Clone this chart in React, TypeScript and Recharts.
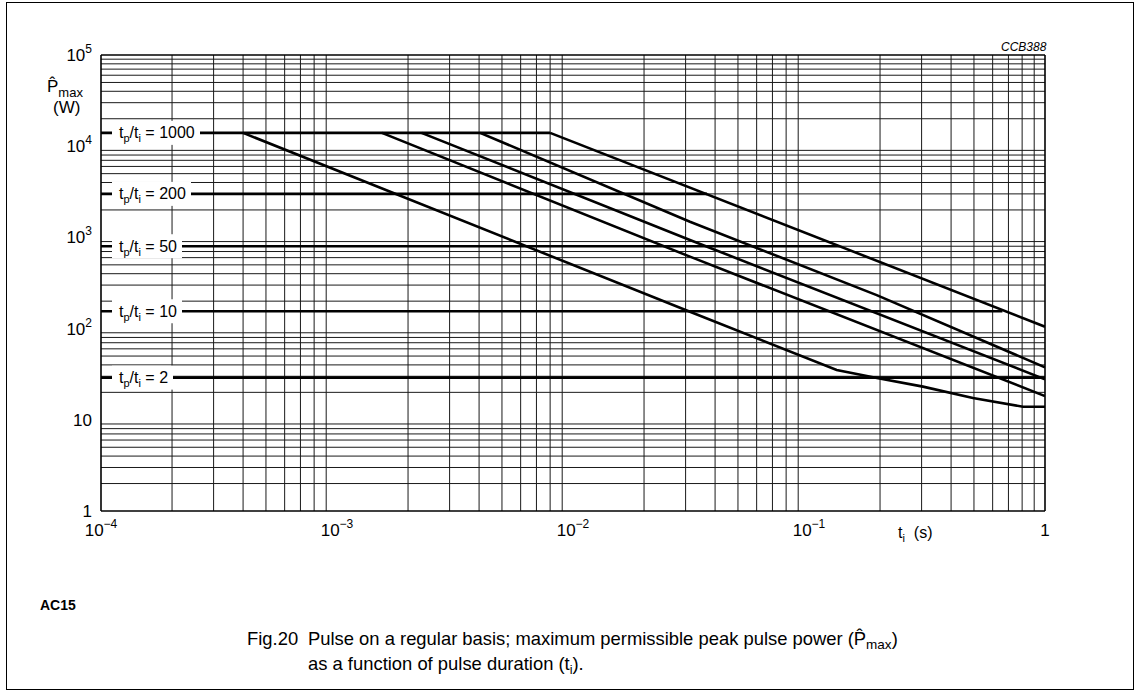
import React from 'react';
import { ComposedChart, Line, XAxis, YAxis, ReferenceLine, ReferenceDot } from 'recharts';

// ---- data ----
const xTicks = [1e-4, 1e-3, 1e-2, 1e-1, 1];
const yTicks = [1, 10, 100, 1000, 10000, 100000];
const gridMantissas = [2, 3, 4, 5, 6, 7, 8, 9];
const xDecades = [1e-4, 1e-3, 1e-2, 1e-1];
const yDecades = [1, 10, 100, 1000, 10000];

const ratioLabels = ['1000', '200', '50', '10', '2'];
const ratioLevels = [14000, 3000, 800, 155, 29];
const ratioEnds = [0.008, 0.037, 0.135, 0.66, 1];

const d1T = [4e-4, 0.0313, 0.131, 0.194, 0.304, 0.495, 0.807, 1];
const d1P = [14000, 153, 35.2, 28.7, 23.1, 17.3, 13.9, 13.9];
const d2T = [1.55e-3, 0.0313, 1];
const d2P = [14000, 615, 18.2];
const d3T = [2.28e-3, 0.0313, 1];
const d3P = [14000, 936, 27.8];
const d4T = [4.04e-3, 0.0313, 0.1936, 1];
const d4P = [14000, 1486, 233, 37.6];
const d5T = [8e-3, 1];
const d5P = [14000, 105];

const diagT = [d1T, d2T, d3T, d4T, d5T];
const diagP = [d1P, d2P, d3P, d4P, d5P];

// ---- helpers ----
const FONT = '"Liberation Sans", Arial, Helvetica, sans-serif';
const toRows = (ts: number[], ps: number[]) => ts.map((t, i) => ({ t, p: ps[i] }));
const xGrid: number[] = [];
xDecades.forEach((d) => gridMantissas.forEach((m) => xGrid.push(d * m)));
const yGrid: number[] = [];
yDecades.forEach((d) => gridMantissas.forEach((m) => yGrid.push(d * m)));

const expOf = (v: number) => Math.round(Math.log10(v));

const XTick = (props: any) => {
  const { x, y, payload } = props;
  const e = expOf(payload.value);
  if (e === 0) {
    return (
      <text x={x} y={y + 25} textAnchor="middle" fontSize={17} fontFamily={FONT} fill="#000">1</text>
    );
  }
  return (
    <text x={x} y={y + 25} textAnchor="middle" fontSize={17} fontFamily={FONT} fill="#000">
      10<tspan fontSize={12} dy={-8}>{e < 0 ? '\u2212' + -e : String(e)}</tspan>
    </text>
  );
};

const YTick = (props: any) => {
  const { x, y, payload } = props;
  const e = expOf(payload.value);
  if (e <= 1) {
    return (
      <text x={x - 9} y={y + 6} textAnchor="end" fontSize={17} fontFamily={FONT} fill="#000">
        {e === 0 ? '1' : '10'}
      </text>
    );
  }
  return (
    <text x={x - 9} y={y + 6} textAnchor="end" fontSize={17} fontFamily={FONT} fill="#000">
      10<tspan fontSize={12} dy={-8}>{String(e)}</tspan>
    </text>
  );
};

const RatioLabel = (props: any) => {
  const { viewBox, text } = props;
  const x = viewBox.x + (viewBox.width || 0) / 2;
  const y = viewBox.y + (viewBox.height || 0) / 2;
  const w = 52 + text.length * 9;
  return (
    <g>
      <rect x={x + 11} y={y - 12} width={w} height={24} fill="#fff" />
      <text x={x + 18} y={y + 5.5} fontSize={16} fontFamily={FONT} fill="#000">
        t<tspan fontSize={11} dy={4}>p</tspan>
        <tspan dy={-4}>/t</tspan>
        <tspan fontSize={11} dy={4}>i</tspan>
        <tspan dy={-4}>{' = ' + text}</tspan>
      </text>
    </g>
  );
};

const abs = (left: number, top: number, extra: React.CSSProperties = {}): React.CSSProperties => ({
  position: 'absolute',
  left,
  top,
  fontFamily: FONT,
  color: '#000',
  whiteSpace: 'nowrap',
  lineHeight: 1,
  ...extra,
});

export default function App() {
  return (
    <div style={{ position: 'absolute', left: 0, top: 0, width: 1136, height: 692, background: '#fff', overflow: 'hidden' }}>
      <div style={{ position: 'absolute', left: 6, top: 2, width: 1126, height: 686, border: '1px solid #000' }} />
      <div style={{ position: 'absolute', left: 0, top: 0 }}>
        <ComposedChart width={1136} height={692} margin={{ top: 55, left: 41, right: 91, bottom: 151 }}>
          <XAxis
            type="number"
            dataKey="t"
            scale="log"
            domain={[1e-4, 1]}
            allowDataOverflow
            ticks={xTicks}
            tick={<XTick />}
            tickLine={false}
            axisLine={false}
            tickSize={0}
            tickMargin={0}
            height={30}
          />
          <YAxis
            type="number"
            dataKey="p"
            scale="log"
            domain={[1, 100000]}
            allowDataOverflow
            ticks={yTicks}
            tick={<YTick />}
            tickLine={false}
            axisLine={false}
            tickSize={0}
            tickMargin={0}
            width={60}
          />
          {xGrid.map((v) => (
            <ReferenceLine key={'xg' + v} x={v} stroke="#1a1a1a" strokeWidth={1} />
          ))}
          {yGrid.map((v) => (
            <ReferenceLine key={'yg' + v} y={v} stroke="#1a1a1a" strokeWidth={1} />
          ))}
          <ReferenceLine x={1e-4} stroke="#000" strokeWidth={1.6} />
          <ReferenceLine x={1} stroke="#000" strokeWidth={1.6} />
          <ReferenceLine y={1} stroke="#000" strokeWidth={1.6} />
          <ReferenceLine y={100000} stroke="#000" strokeWidth={1.6} />
          {ratioLevels.map((lv, i) => (
            <Line
              key={'h' + i}
              data={toRows([1e-4, ratioEnds[i]], [lv, lv])}
              dataKey="p"
              type="linear"
              stroke="#000"
              strokeWidth={2.6}
              dot={false}
              activeDot={false}
              isAnimationActive={false}
            />
          ))}
          {diagT.map((ts, i) => (
            <Line
              key={'d' + i}
              data={toRows(ts, diagP[i])}
              dataKey="p"
              type="linear"
              stroke="#000"
              strokeWidth={2.6}
              dot={false}
              activeDot={false}
              isAnimationActive={false}
            />
          ))}
          {ratioLevels.map((lv, i) => (
            <ReferenceDot
              key={'lab' + i}
              x={1e-4}
              y={lv}
              r={0}
              fill="none"
              stroke="none"
              ifOverflow="visible"
              label={(p: any) => <RatioLabel {...p} text={ratioLabels[i]} />}
            />
          ))}
        </ComposedChart>
      </div>
      <div style={abs(47, 78, { fontSize: 17 })}>
        P{'\u0302'}<span style={{ fontSize: 13, position: 'relative', top: 5 }}>max</span>
      </div>
      <div style={abs(53, 99, { fontSize: 17 })}>(W)</div>
      <div style={abs(1001, 41, { fontSize: 12, fontStyle: 'italic' })}>CCB388</div>
      <div style={abs(898, 525, { fontSize: 16 })}>
        t<span style={{ fontSize: 11, position: 'relative', top: 4 }}>i</span>&nbsp;&nbsp;(s)
      </div>
      <div style={abs(40, 598, { fontSize: 14, fontWeight: 'bold' })}>AC15</div>
      <div style={abs(247, 630, { fontSize: 18.4 })}>Fig.20</div>
      <div style={abs(308, 630, { fontSize: 18.4 })}>
        Pulse on a regular basis; maximum permissible peak pulse power (P{'\u0302'}
        <span style={{ fontSize: 13.5, position: 'relative', top: 4 }}>max</span>)
      </div>
      <div style={abs(308, 655, { fontSize: 18.4 })}>
        as a function of pulse duration (t<span style={{ fontSize: 12.5, position: 'relative', top: 4 }}>i</span>).
      </div>
    </div>
  );
}
